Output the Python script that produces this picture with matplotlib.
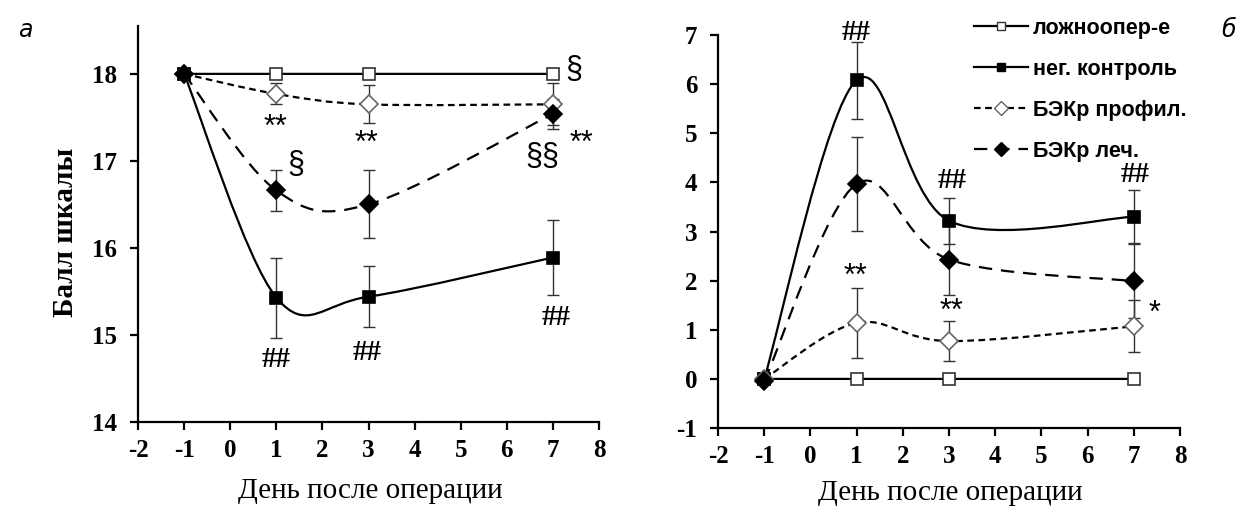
import numpy as np
import matplotlib
matplotlib.use("Agg")
import matplotlib.pyplot as plt
from matplotlib.path import Path
from matplotlib.patches import PathPatch
from matplotlib.lines import Line2D

plt.rcParams["axes.unicode_minus"] = False

# days after operation
days = [-1, 1, 3, 7]

# panel a: scale score
a_sham = [18, 18, 18, 18]
a_neg = [18, 15.43, 15.44, 15.89]
a_neg_err = [0, 0.46, 0.35, 0.43]
a_prof = [18, 17.77, 17.65, 17.65]
a_prof_err = [0, 0.12, 0.22, 0.24]
a_treat = [18, 16.66, 16.50, 17.54]
a_treat_err = [0, 0.24, 0.39, 0.17]

# panel b
b_sham = [0, 0, 0, 0]
b_neg = [0, 6.08, 3.22, 3.30]
b_neg_err = [0, 0.78, 0.47, 0.54]
b_prof = [0, 1.14, 0.77, 1.07]
b_prof_err = [0, 0.72, 0.41, 0.53]
b_treat = [-0.05, 3.97, 2.43, 1.99]
b_treat_err = [0, 0.95, 0.72, 0.75]

labels = ["ложноопер-е", "нег. контроль", "БЭКр профил.", "БЭКр леч."]

# significance marks: (text, x, y)
a_marks = [("§", 7.45, 18.04), ("**", 0.99, 17.38), ("**", 2.96, 17.2),
           ("**", 7.62, 17.2), ("§§", 6.76, 17.05), ("§", 1.42, 16.95),
           ("##", 0.99, 14.72), ("##", 2.96, 14.8), ("##", 7.06, 15.2)]
b_marks = [("##", 0.98, 7.05), ("##", 3.06, 4.03), ("##", 7.02, 4.17),
           ("**", 0.98, 2.08), ("**", 3.06, 1.36), ("*", 7.45, 1.33)]

SERIF = "Liberation Serif"
SANS = "Liberation Sans"

styles = [
    dict(ls="-", marker="s", mfc="white", mec="#333333", ms=9),
    dict(ls="-", marker="s", mfc="black", mec="black", ms=8.5),
    dict(ls=(0, (3, 2)), marker="D", mfc="white", mec="#666666", ms=9.5),
    dict(ls=(0, (6, 4)), marker="D", mfc="black", mec="black", ms=9.5),
]


def smooth_path(x, y):
    # excel-like smoothed line (catmull-rom as cubic bezier)
    pts = np.column_stack([x, y]).astype(float)
    n = len(pts)
    verts = [pts[0]]
    codes = [Path.MOVETO]
    for i in range(n - 1):
        p0 = pts[max(i - 1, 0)]
        p1 = pts[i]
        p2 = pts[i + 1]
        p3 = pts[min(i + 2, n - 1)]
        verts += [p1 + (p2 - p0) / 6, p2 - (p3 - p1) / 6, p2]
        codes += [Path.CURVE4] * 3
    return Path(verts, codes)


def draw_panel(ax, series, errs, marks):
    for i, (vals, st) in enumerate(zip(series, styles)):
        patch = PathPatch(smooth_path(days, vals), fill=False, lw=1.6,
                          edgecolor="black", linestyle=st["ls"], zorder=2)
        ax.add_patch(patch)
        if errs[i] is not None:
            ax.errorbar(days[1:], vals[1:], yerr=errs[i][1:], fmt="none",
                        ecolor="#333333", elinewidth=1, capsize=4, capthick=1,
                        zorder=3)
        ax.plot(days, vals, linestyle="none", marker=st["marker"],
                mfc=st["mfc"], mec=st["mec"], ms=st["ms"], mew=1.2, zorder=4)
    for txt, x, y in marks:
        if txt == "##":
            ax.text(x, y, txt, ha="center", va="center", fontsize=21,
                    family=SERIF, fontweight="bold")
        else:
            ax.text(x, y, txt, ha="center", va="center", fontsize=22,
                    family=SANS)
    ax.spines["top"].set_visible(False)
    ax.spines["right"].set_visible(False)
    ax.spines["left"].set_linewidth(1.6)
    ax.spines["bottom"].set_linewidth(1.6)
    ax.set_xlim(-2, 8)
    ax.set_xticks(range(-2, 9))
    ax.tick_params(direction="out", length=6, width=1.6, labelsize=18)
    ax.tick_params(axis="x", pad=6)
    ax.tick_params(axis="y", pad=9)
    for lab in ax.get_xticklabels() + ax.get_yticklabels():
        lab.set_family(SERIF)
        lab.set_fontweight("bold")


fig = plt.figure(figsize=(12.38, 5.12), dpi=100)
ax1 = fig.add_axes([0.1115, 0.1758, 0.3724, 0.7734])
ax2 = fig.add_axes([0.580, 0.164, 0.3732, 0.7676])

draw_panel(ax1, [a_sham, a_neg, a_prof, a_treat],
           [None, a_neg_err, a_prof_err, a_treat_err], a_marks)
ax1.set_ylim(14, 18.55)
ax1.set_yticks([14, 15, 16, 17, 18])
ax1.set_ylabel("Балл шкалы", family=SERIF, fontweight="bold", fontsize=21)
ax1.yaxis.set_label_coords(-0.158, 0.48)
ax1.yaxis.label.set_va("center")
ax1.set_xlabel("День после операции", family=SERIF, fontsize=21)
ax1.xaxis.set_label_coords(0.503, -0.175)
ax1.xaxis.label.set_va("center")

draw_panel(ax2, [b_sham, b_neg, b_prof, b_treat],
           [None, b_neg_err, b_prof_err, b_treat_err], b_marks)
ax2.set_ylim(-1, 7)
ax2.set_yticks(range(-1, 8))
ax2.set_xlabel("День после операции", family=SERIF, fontsize=21)
ax2.xaxis.set_label_coords(0.502, -0.165)
ax2.xaxis.label.set_va("center")

handles = [Line2D([], [], color="black", lw=1.6, linestyle=st["ls"],
                  marker=st["marker"], mfc=st["mfc"], mec=st["mec"],
                  ms=st["ms"] * 0.7, mew=1) for st in styles]
ax2.legend(handles, labels, loc="upper left", bbox_to_anchor=(0.513, 1.093),
           frameon=False, handlelength=2.5, handletextpad=0.2,
           labelspacing=0.93, prop=dict(family=SANS, weight="bold", size=15.5))

fig.text(18 / 1238, 1 - 30 / 512, "а", fontsize=17, style="italic",
         family="DejaVu Sans", va="center", ha="left")
fig.text(1229 / 1238, 1 - 30 / 512, "б", fontsize=17, style="italic",
         family="DejaVu Sans", va="center", ha="center")

fig.savefig("out.png", dpi=100)
